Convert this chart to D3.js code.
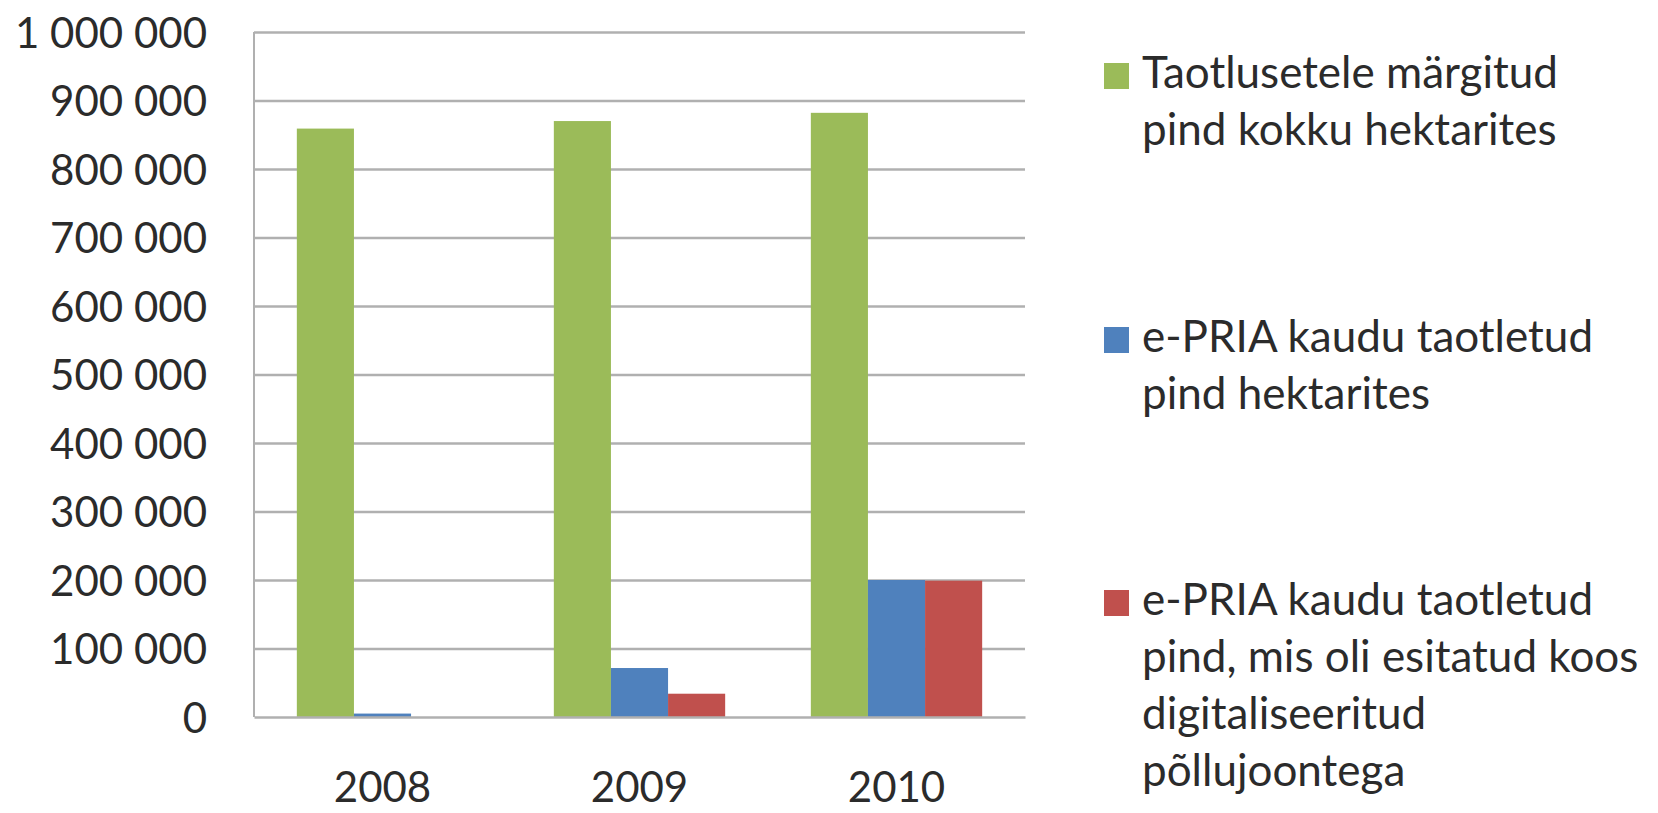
<!DOCTYPE html>
<html>
<head>
<meta charset="utf-8">
<script src="https://cdn.jsdelivr.net/npm/d3@7"></script>
<style>
  html, body { margin: 0; padding: 0; background: #ffffff; }
  svg { display: block; }
  text { font-family: Lato, "Open Sans", sans-serif; fill: #2b2b2b; }
</style>
</head>
<body>
<svg id="chart" width="1658" height="813"></svg>
<script>
// ---- data ----
const categories = ["2008", "2009", "2010"];
const seriesNames = [
  "Taotlusetele märgitud pind kokku hektarites",
  "e-PRIA kaudu taotletud pind hektarites",
  "e-PRIA kaudu taotletud pind, mis oli esitatud koos digitaliseeritud põllujoontega"
];
const totalArea = [859000, 870000, 882000];
const ePriaArea = [5000, 71500, 200000];
const ePriaDigitized = [0, 34000, 199000];
const yTicks = [0, 100000, 200000, 300000, 400000, 500000, 600000, 700000, 800000, 900000, 1000000];
const legendLines = [
  ["Taotlusetele märgitud", "pind kokku hektarites"],
  ["e-PRIA kaudu taotletud", "pind hektarites"],
  ["e-PRIA kaudu taotletud", "pind, mis oli esitatud koos", "digitaliseeritud", "põllujoontega"]
];
const colors = ["#9BBB59", "#4F81BD", "#C0504D"];

const seriesValues = [totalArea, ePriaArea, ePriaDigitized];

// ---- layout ----
const plot = { left: 254, right: 1025, top: 32, bottom: 717 };
const svg = d3.select("#chart");

const y = d3.scaleLinear().domain([0, 1000000]).range([plot.bottom, plot.top]);
const x0 = d3.scaleBand().domain(categories).range([plot.left, plot.right]).padding(0);
const bw = x0.bandwidth();
const gapHalf = bw * 0.75 / 4.5;
const x1 = d3.scaleBand().domain(d3.range(seriesNames.length)).range([gapHalf, bw - gapHalf]).padding(0);

const fmt = v => d3.format(",")(v).replace(/,/g, " ");

// gridlines
const grid = svg.append("g").attr("transform", `translate(${plot.left},0)`)
  .call(d3.axisLeft(y).tickValues(yTicks.filter(v => v > 0)).tickSize(-(plot.right - plot.left)).tickFormat(""));
grid.select(".domain").remove();
grid.selectAll("line").attr("stroke", "#b0b0b0").attr("stroke-width", 2.5);

// y axis labels
const yAxis = svg.append("g").attr("transform", `translate(${plot.left},0)`)
  .call(d3.axisLeft(y).tickValues(yTicks).tickSize(0).tickPadding(47).tickFormat(fmt));
yAxis.select(".domain").remove();
yAxis.selectAll("text")
  .style("font-family", "Lato, sans-serif")
  .style("font-size", "42px")
  .attr("fill", "#2b2b2b")
  .attr("dy", "0.36em");

// bars
const groups = svg.append("g").selectAll("g")
  .data(categories)
  .join("g")
  .attr("transform", d => `translate(${x0(d)},0)`);

groups.selectAll("rect")
  .data((c, i) => seriesValues.map((vals, s) => ({ s, v: vals[i] })))
  .join("rect")
  .attr("x", d => x1(d.s))
  .attr("width", x1.bandwidth())
  .attr("y", d => y(d.v))
  .attr("height", d => y(0) - y(d.v))
  .attr("fill", d => colors[d.s]);

// axis lines (left + bottom)
svg.append("line")
  .attr("x1", plot.left).attr("x2", plot.left)
  .attr("y1", plot.top).attr("y2", plot.bottom)
  .attr("stroke", "#b0b0b0").attr("stroke-width", 2);

const xAxis = svg.append("g").attr("transform", `translate(0,${plot.bottom})`)
  .call(d3.axisBottom(x0).tickSize(0).tickPadding(0));
xAxis.select(".domain").attr("stroke", "#b0b0b0").attr("stroke-width", 2.5);
xAxis.selectAll("text")
  .style("font-family", "Lato, sans-serif")
  .style("font-size", "42px")
  .attr("fill", "#2b2b2b")
  .attr("dy", null)
  .attr("y", 85);

// legend
const legendX = 1104;
const legendBaselines = [88, 352, 615];
const lineH = 57;
const legend = svg.append("g");
legendLines.forEach((lines, i) => {
  const g = legend.append("g");
  g.append("rect")
    .attr("x", legendX)
    .attr("y", legendBaselines[i] - 25)
    .attr("width", 25)
    .attr("height", 26)
    .attr("fill", colors[i]);
  const t = g.append("text")
    .attr("x", legendX + 38)
    .attr("y", legendBaselines[i])
    .style("font-size", "44px");
  lines.forEach((ln, k) => {
    t.append("tspan")
      .attr("x", legendX + 38)
      .attr("dy", k === 0 ? 0 : lineH)
      .text(ln);
  });
});
</script>
</body>
</html>
